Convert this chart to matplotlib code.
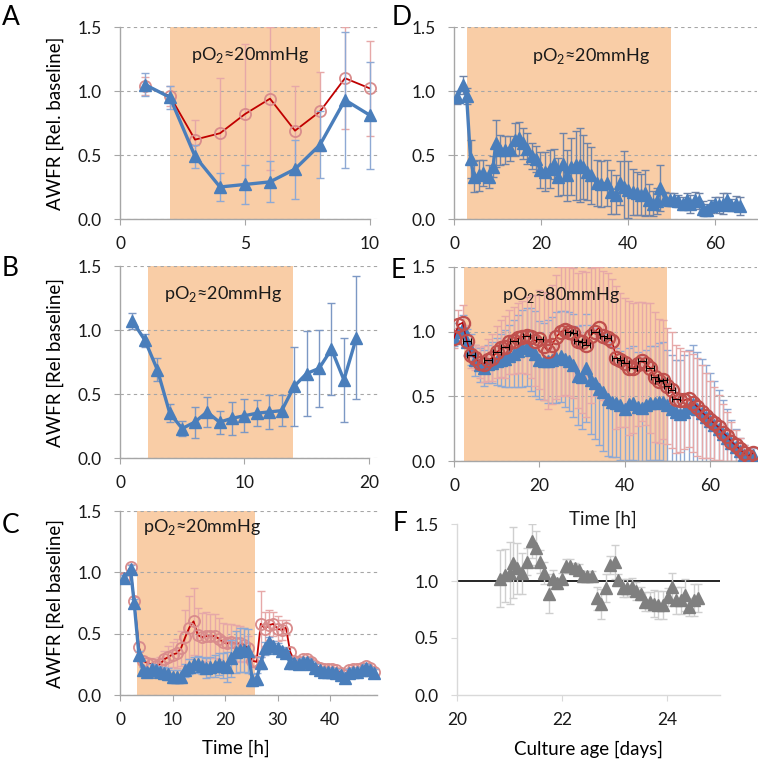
import numpy as np
import matplotlib
matplotlib.use("Agg")
import matplotlib.pyplot as plt

plt.rcParams['font.family'] = ['Lato', 'DejaVu Sans']
plt.rcParams['mathtext.fontset'] = 'custom'
plt.rcParams['mathtext.rm'] = 'Lato'

# ---- data ----
# panel A
A_x = [1, 2, 3, 4, 5, 6, 7, 8, 9, 10]
A_blue = [1.05, 0.95, 0.49, 0.25, 0.27, 0.29, 0.39, 0.58, 0.93, 0.81]
A_blue_err = [0.09, 0.09, 0.09, 0.11, 0.15, 0.16, 0.23, 0.26, 0.53, 0.42]
A_red = [1.04, 0.96, 0.62, 0.67, 0.82, 0.94, 0.69, 0.84, 1.10, 1.02]
A_red_err = [0.07, 0.08, 0.15, 0.43, 0.55, 0.56, 0.35, 0.31, 0.40, 0.37]

# panel B
B_x = list(range(1, 20))
B_blue = [1.07, 0.92, 0.69, 0.35, 0.23, 0.28, 0.36, 0.28, 0.31, 0.33,
          0.35, 0.36, 0.37, 0.56, 0.66, 0.70, 0.85, 0.61, 0.94]
B_err = [0.06, 0.05, 0.09, 0.07, 0.06, 0.12, 0.12, 0.09, 0.13, 0.13,
         0.10, 0.13, 0.12, 0.31, 0.33, 0.30, 0.36, 0.33, 0.48]

# panel C
C_x = [0.8, 2.0, 2.7, 3.6] + list(np.round(np.arange(4.4, 48.5, 0.8), 1))
C_blue = [0.95, 1.03, 0.75, 0.33,
          0.20, 0.19, 0.21, 0.20, 0.19, 0.18, 0.17, 0.15, 0.15, 0.15,
          0.20, 0.23, 0.25, 0.25, 0.24, 0.22, 0.23, 0.24, 0.25, 0.24,
          0.23, 0.30, 0.35, 0.37, 0.37, 0.36, 0.12, 0.13, 0.26, 0.38,
          0.43, 0.40, 0.38, 0.36, 0.34, 0.26, 0.26, 0.25, 0.27, 0.27,
          0.25, 0.22, 0.20, 0.19, 0.19, 0.19, 0.18, 0.16, 0.14, 0.18,
          0.19, 0.19, 0.20, 0.22, 0.20, 0.18]
C_blue_err = [0.03, 0.03, 0.03, 0.03,
              0.03, 0.03, 0.04, 0.04, 0.04, 0.05, 0.05, 0.05, 0.05, 0.05,
              0.05, 0.06, 0.06, 0.07, 0.07, 0.08, 0.08, 0.09, 0.09, 0.10,
              0.12, 0.15, 0.17, 0.18, 0.18, 0.18, 0.05, 0.05, 0.05, 0.05,
              0.04, 0.04, 0.04, 0.03, 0.03, 0.03, 0.03, 0.03, 0.03, 0.03,
              0.03, 0.03, 0.03, 0.03, 0.03, 0.03, 0.03, 0.03, 0.03, 0.03,
              0.03, 0.03, 0.03, 0.03, 0.03, 0.03]
C_red = [0.95, 1.04, 0.77, 0.39,
         0.28, 0.26, 0.25, 0.24, 0.25, 0.29, 0.31, 0.33, 0.34, 0.38,
         0.47, 0.55, 0.60, 0.49, 0.47, 0.48, 0.48, 0.48, 0.46, 0.43,
         0.42, 0.43, 0.42, 0.42, 0.41, 0.38, 0.28, 0.27, 0.58, 0.54,
         0.57, 0.58, 0.54, 0.53, 0.55, 0.35, 0.28, 0.27, 0.29, 0.29,
         0.27, 0.24, 0.22, 0.21, 0.21, 0.21, 0.20, 0.18, 0.16, 0.20,
         0.21, 0.21, 0.22, 0.24, 0.22, 0.19]
C_red_err = [0.03, 0.03, 0.03, 0.04,
             0.04, 0.04, 0.05, 0.05, 0.06, 0.07, 0.09, 0.10, 0.12, 0.14,
             0.22, 0.26, 0.27, 0.22, 0.20, 0.20, 0.18, 0.18, 0.17, 0.16,
             0.16, 0.15, 0.15, 0.14, 0.14, 0.10, 0.05, 0.05, 0.27, 0.14,
             0.12, 0.10, 0.10, 0.08, 0.06, 0.04, 0.03, 0.02, 0.02, 0.02,
             0.02, 0.02, 0.02, 0.02, 0.02, 0.02, 0.02, 0.02, 0.02, 0.02,
             0.02, 0.02, 0.02, 0.02, 0.02, 0.02]

# panel D
D_x = [0.8, 2.0, 2.9, 3.8, 4.6, 5.8, 6.7, 8.1, 9.0, 9.6,
       10.6, 11.7, 12.9, 14.0, 15.0, 15.9, 16.9, 17.9, 18.9, 19.8,
       20.9, 22.1, 23.0, 24.0, 25.0, 25.9, 27.0, 28.0, 28.9, 29.7,
       30.6, 31.6, 32.8, 33.9, 35.1, 36.2, 37.2, 38.2, 39.1, 40.1,
       41.1, 42.0, 43.1, 43.9, 44.9, 45.8, 46.7, 47.5, 48.5, 49.7,
       50.6, 51.6, 52.6, 53.5, 54.4, 55.4, 56.4, 57.3, 58.2, 59.2,
       60.0, 61.0, 61.9, 62.7, 63.8, 64.8, 65.7]
D_blue = [0.95, 1.05, 0.96, 0.47, 0.33, 0.34, 0.36, 0.33, 0.41, 0.59,
          0.54, 0.54, 0.55, 0.62, 0.63, 0.59, 0.55, 0.49, 0.47, 0.38,
          0.37, 0.39, 0.43, 0.33, 0.43, 0.34, 0.41, 0.42, 0.42, 0.41,
          0.37, 0.34, 0.28, 0.27, 0.28, 0.21, 0.19, 0.28, 0.25, 0.23,
          0.21, 0.20, 0.19, 0.20, 0.15, 0.12, 0.14, 0.24, 0.16, 0.15,
          0.15, 0.14, 0.12, 0.15, 0.12, 0.15, 0.14, 0.08, 0.07, 0.10,
          0.12, 0.11, 0.12, 0.15, 0.11, 0.12, 0.10]
D_err = [0.05, 0.07, 0.06, 0.15, 0.12, 0.12, 0.10, 0.09, 0.08, 0.18,
         0.12, 0.11, 0.10, 0.13, 0.13, 0.12, 0.12, 0.10, 0.10, 0.14,
         0.15, 0.15, 0.12, 0.15, 0.24, 0.20, 0.22, 0.27, 0.29, 0.25,
         0.22, 0.22, 0.18, 0.18, 0.18, 0.17, 0.15, 0.17, 0.28, 0.22,
         0.18, 0.17, 0.16, 0.18, 0.12, 0.10, 0.10, 0.18, 0.05, 0.05,
         0.05, 0.05, 0.05, 0.05, 0.07, 0.06, 0.06, 0.06, 0.05, 0.05,
         0.05, 0.06, 0.08, 0.05, 0.05, 0.06, 0.07]

# panel E
E_x = list(range(0, 71))
E_blue = [0.95, 1.00, 1.03, 0.92, 0.86, 0.78, 0.74, 0.72, 0.75, 0.76,
          0.77, 0.78, 0.79, 0.81, 0.83, 0.85, 0.87, 0.88, 0.86, 0.83,
          0.78, 0.77, 0.77, 0.78, 0.80, 0.81, 0.79, 0.77, 0.74, 0.66,
          0.65, 0.72, 0.63, 0.60, 0.56, 0.53, 0.48, 0.46, 0.45, 0.43,
          0.40, 0.44, 0.45, 0.42, 0.41, 0.43, 0.45, 0.45, 0.46, 0.46,
          0.43, 0.40, 0.38, 0.36, 0.38, 0.41, 0.44, 0.40, 0.37, 0.34,
          0.31, 0.28, 0.25, 0.21, 0.18, 0.14, 0.11, 0.08, 0.05, 0.03, 0.05]
E_blue_err = [0.06, 0.07, 0.10, 0.10, 0.12, 0.12, 0.13, 0.14, 0.15, 0.16,
              0.18, 0.20, 0.22, 0.24, 0.26, 0.28, 0.30, 0.30, 0.32, 0.33,
              0.30, 0.30, 0.32, 0.33, 0.35, 0.35, 0.37, 0.38, 0.40, 0.38,
              0.40, 0.42, 0.42, 0.43, 0.44, 0.45, 0.44, 0.43, 0.42, 0.42,
              0.40, 0.43, 0.44, 0.42, 0.41, 0.43, 0.44, 0.44, 0.45, 0.46,
              0.43, 0.42, 0.40, 0.42, 0.44, 0.45, 0.46, 0.44, 0.42, 0.40,
              0.37, 0.34, 0.30, 0.26, 0.22, 0.18, 0.14, 0.10, 0.07, 0.05, 0.05]
E_red = [0.95, 1.05, 1.07, 0.93, 0.82, 0.80, 0.76, 0.75, 0.78, 0.80,
         0.84, 0.87, 0.88, 0.92, 0.93, 0.95, 0.96, 0.97, 0.96, 0.93,
         0.94, 0.89, 0.85, 0.90, 0.96, 1.00, 1.01, 1.00, 0.99, 0.93,
         0.92, 0.90, 0.97, 1.00, 1.03, 0.97, 0.95, 0.93, 0.80, 0.78,
         0.76, 0.72, 0.72, 0.75, 0.77, 0.75, 0.72, 0.65, 0.62, 0.63,
         0.58, 0.55, 0.48, 0.47, 0.47, 0.48, 0.45, 0.42, 0.38, 0.35,
         0.32, 0.29, 0.26, 0.22, 0.19, 0.15, 0.12, 0.09, 0.06, 0.04, 0.06]
E_red_err = [0.08, 0.12, 0.14, 0.12, 0.10, 0.10, 0.12, 0.14, 0.16, 0.18,
             0.20, 0.22, 0.24, 0.25, 0.26, 0.27, 0.28, 0.30, 0.32, 0.35,
             0.38, 0.42, 0.45, 0.46, 0.48, 0.50, 0.50, 0.50, 0.50, 0.52,
             0.55, 0.56, 0.52, 0.50, 0.47, 0.50, 0.50, 0.48, 0.55, 0.52,
             0.50, 0.52, 0.50, 0.48, 0.46, 0.47, 0.50, 0.50, 0.48, 0.46,
             0.45, 0.45, 0.42, 0.40, 0.38, 0.37, 0.38, 0.38, 0.36, 0.33,
             0.30, 0.28, 0.25, 0.22, 0.19, 0.15, 0.12, 0.09, 0.06, 0.04, 0.05]
# points of the red series that carry a black horizontal bar
E_hbar_idx = [3, 4, 8, 10, 12, 14, 17, 20, 27, 28, 29, 30, 31, 33, 35, 36,
              38, 39, 40, 42, 44, 46, 47, 48, 49, 50, 51, 52]

# panel F
F_x = [20.82, 20.91, 21.01, 21.07, 21.14, 21.23, 21.33, 21.42, 21.50, 21.58,
       21.66, 21.74, 21.82, 21.91, 21.99, 22.08, 22.15, 22.24, 22.31, 22.39,
       22.47, 22.57, 22.66, 22.74, 22.83, 22.91, 23.00, 23.07, 23.16, 23.24,
       23.33, 23.41, 23.49, 23.57, 23.66, 23.74, 23.83, 23.92, 24.01, 24.09,
       24.17, 24.26, 24.34, 24.42, 24.51, 24.59]
F_y = [1.02, 1.05, 1.07, 1.16, 1.11, 1.07, 1.17, 1.35, 1.29, 1.17,
       1.07, 0.89, 1.02, 0.98, 1.02, 1.13, 1.13, 1.11, 1.10, 1.04,
       1.04, 1.04, 0.85, 0.80, 0.94, 1.14, 1.17, 1.01, 0.94, 0.94,
       0.95, 0.91, 0.89, 0.82, 0.82, 0.80, 0.79, 0.79, 0.86, 0.95,
       0.83, 0.83, 0.88, 0.77, 0.83, 0.85]
F_err = [0.25, 0.23, 0.27, 0.31, 0.22, 0.18, 0.12, 0.15, 0.15, 0.10,
         0.10, 0.17, 0.08, 0.05, 0.05, 0.06, 0.06, 0.05, 0.05, 0.05,
         0.05, 0.05, 0.10, 0.13, 0.12, 0.08, 0.15, 0.05, 0.08, 0.08,
         0.08, 0.08, 0.06, 0.08, 0.08, 0.12, 0.12, 0.12, 0.08, 0.12,
         0.12, 0.12, 0.14, 0.08, 0.14, 0.12]

# ---- styles ----
BLUE = '#4A7EBB'
BLUE_ERR = '#8EA9D4'
RED = '#C00000'
RED_MK = '#D98C8C'
RED_ERR = '#E6A8A8'
SHADE = '#F9CDA6'
AXC = '#A6A6A6'


def style(ax, xmax, xbound, xticks, grid=True):
    ax.set_xlim(xticks[0], xmax)
    ax.set_ylim(0, 1.5)
    ax.set_yticks([0, 0.5, 1.0, 1.5])
    ax.set_yticklabels(['0.0', '0.5', '1.0', '1.5'])
    ax.set_xticks(xticks)
    for s in ['top', 'right']:
        ax.spines[s].set_visible(False)
    for s in ['left', 'bottom']:
        ax.spines[s].set_color(AXC)
        ax.spines[s].set_linewidth(1.0)
    ax.spines['bottom'].set_bounds(xticks[0], xbound)
    ax.set_axisbelow(True)
    if grid:
        ax.yaxis.grid(True, ls=(0, (3, 3)), color=AXC, lw=0.8)
    ax.tick_params(axis='both', direction='out', length=4, color=AXC,
                   labelsize=12.5, labelcolor='#1a1a1a')
    ax.tick_params(axis='x', pad=8)
    ax.tick_params(axis='y', pad=9)
    ax.set_facecolor('none')


def label_o2(ax, x, y, txt):
    ax.text(x, y, 'pO$_\\mathregular{2}$' + txt, ha='center', va='center',
            fontsize=13, color='#1a1a1a', transform=ax.transData)


def blue_series(ax, x, y, err, ms=9, ecol=BLUE_ERR, z=4):
    ax.errorbar(x, y, yerr=err, fmt='none', ecolor=ecol, elinewidth=1,
                capsize=3, capthick=1, zorder=z - 1)
    ax.plot(x, y, '-^', color=BLUE, lw=2.4, ms=ms, mec=BLUE, zorder=z)


def red_series(ax, x, y, err, ms=8, mcol=RED_MK, lcol=RED, z=3):
    ax.errorbar(x, y, yerr=err, fmt='none', ecolor=RED_ERR, elinewidth=1,
                capsize=3, capthick=1, zorder=z - 1)
    ax.plot(x, y, '-o', color=lcol, lw=1.3, ms=ms, mfc='none', mec=mcol,
            mew=1.3, zorder=z)


fig = plt.figure(figsize=(7.58, 7.63), dpi=100)
W, H = 758, 763


def add_ax(l, r, t, b):
    return fig.add_axes([l / W, 1 - b / H, (r - l) / W, (b - t) / H])


axA = add_ax(120, 380, 27, 219)
axD = add_ax(454, 757, 27, 219)
axB = add_ax(120, 380, 266, 458)
axE = add_ax(454, 757, 267, 461)
axC = add_ax(120, 380, 511, 695)
axF = add_ax(457, 720, 524, 695)

# A
style(axA, 10.4, 10, [0, 5, 10])
axA.axvspan(2, 8, color=SHADE, lw=0, zorder=0)
red_series(axA, A_x, A_red, A_red_err, z=3)
blue_series(axA, A_x, A_blue, A_blue_err, z=5)
label_o2(axA, 5.2, 1.28, '≈20mmHg')
axA.set_ylabel('AWFR [Rel. baseline]', fontsize=13.5)
axA.yaxis.set_label_coords(-0.215, 0.5)

# B
style(axB, 20.9, 20, [0, 10, 20])
axB.axvspan(2.25, 13.9, color=SHADE, lw=0, zorder=0)
blue_series(axB, B_x, B_blue, B_err, ecol='#7C98C4')
label_o2(axB, 8.3, 1.28, '≈20mmHg')
axB.set_ylabel('AWFR [Rel baseline]', fontsize=13.5)
axB.yaxis.set_label_coords(-0.215, 0.5)

# C
style(axC, 49.5, 49, [0, 10, 20, 30, 40])
axC.axvspan(3.3, 25.7, color=SHADE, lw=0, zorder=0)
red_series(axC, C_x, C_red, C_red_err, ms=8, z=3)
blue_series(axC, C_x, C_blue, C_blue_err, ms=8.5, z=5)
label_o2(axC, 15.6, 1.37, '≈20mmHg')
axC.set_ylabel('AWFR [Rel baseline]', fontsize=13.5)
axC.yaxis.set_label_coords(-0.215, 0.5)
axC.set_xlabel('Time [h]', fontsize=13.5)
axC.xaxis.set_label_coords(0.446, -0.245)

# D
style(axD, 69.7, 69.7, [0, 20, 40, 60])
axD.axvspan(3, 50, color=SHADE, lw=0, zorder=0)
blue_series(axD, D_x, D_blue, D_err, ms=9, ecol='#6F84A8')
label_o2(axD, 31.5, 1.27, '≈20mmHg')

# E
style(axE, 71, 71, [0, 20, 40, 60])
axE.axvspan(2.4, 50, color=SHADE, lw=0, zorder=0)
blue_series(axE, E_x, E_blue, E_blue_err, ms=8.5, z=3)
axE.errorbar(E_x, E_red, yerr=E_red_err, fmt='none', ecolor=RED_ERR,
             elinewidth=1, capsize=3, capthick=1, zorder=2)
hx = [E_x[i] for i in E_hbar_idx]
hy = [E_red[i] for i in E_hbar_idx]
axE.errorbar(hx, hy, xerr=0.9, fmt='none', ecolor='black',
             elinewidth=0.8, capsize=2, capthick=0.8, zorder=6)
axE.plot(E_x, E_red, '-o', color=RED, lw=1.0, ms=9.5, mfc='none', mec='#C0504D',
         mew=1.6, zorder=5)
label_o2(axE, 25, 1.28, '≈80mmHg')
fig.text(603 / W, 1 - 519 / H, 'Time [h]', fontsize=13.5, ha='center',
         va='center', color='#1a1a1a')

# F
style(axF, 25, 25, [20, 22, 24], grid=False)
axF.spines['left'].set_color('#D9D9D9')
axF.spines['bottom'].set_color('#D9D9D9')
axF.tick_params(color='#D9D9D9')
axF.axhline(1.0, color='black', lw=1.2, zorder=2)
axF.errorbar(F_x, F_y, yerr=F_err, fmt='none', ecolor='#CFCFCF',
             elinewidth=1, capsize=3, capthick=1, zorder=3)
axF.plot(F_x, F_y, '^', color='#7F7F7F', ms=8.5, zorder=4)
axF.set_xlabel('Culture age [days]', fontsize=13.5)
axF.xaxis.set_label_coords((589 - 457) / 263, -0.265)

# panel letters
for lab, x, y in [('A', 2, 5), ('D', 392, 5), ('B', 2, 256), ('E', 391, 258),
                  ('C', 2, 513), ('F', 393, 511)]:
    fig.text(x / W, 1 - y / H, lab, fontsize=19, va='top', ha='left')

fig.savefig('out.png', dpi=100)
